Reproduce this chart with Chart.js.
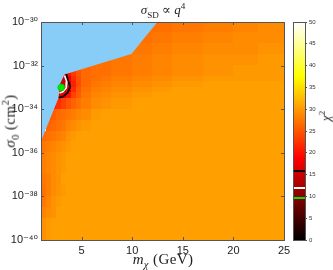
<!DOCTYPE html>
<html>
<head>
  <title>chi2 map sigma_SD ~ q^4</title>
  <script src="https://cdn.jsdelivr.net/npm/chart.js"></script>
  <style>
    body { margin: 0; background: #fff; }
    #wrap { position: relative; width: 333px; height: 270px; overflow: hidden; }
    canvas { position: absolute; top: 0; }
    #main { left: 0; }
    #cbar { left: 285px; }
    .lbl { position: absolute; font-family: "Liberation Serif", "DejaVu Serif", serif; color: #222; white-space: nowrap; line-height: 1; }
    .lbl sub, .lbl sup { font-size: 70%; }
    #title { left: 0; width: 326px; top: 2px; text-align: center; font-size: 13px; }
    #xlab { left: 0; width: 326px; top: 252px; text-align: center; font-size: 15px; letter-spacing: 0.4px; }
    #ylab { left: 11px; top: 121px; font-size: 15px; letter-spacing: 0.4px; transform: translate(-50%, -50%) rotate(-90deg); }
    #clab { left: 325px; top: 116px; font-size: 13px; transform: translate(-50%, -50%) rotate(-90deg); }
  </style>
</head>
<body>
<div id="wrap">
  <canvas id="main" width="333" height="270"></canvas>
  <canvas id="cbar" width="48" height="270"></canvas>
  <div class="lbl" id="title"><i>σ</i><sub>SD</sub> ∝ <i>q</i><sup>4</sup></div>
  <div class="lbl" id="xlab"><i>m</i><sub><i>χ</i></sub> (GeV)</div>
  <div class="lbl" id="ylab"><i>σ</i><sub>0</sub> (cm<sup>2</sup>)</div>
  <div class="lbl" id="clab"><i>χ</i><sup>2</sup></div>
</div>

<script>
  // grid of chi^2 values, cells between these edges
  const massEdges = [1, 1.5, 2, 2.5, 3, 3.5, 4, 4.5, 5, 6, 7, 8, 10, 12, 14, 17, 20, 22.5, 25];
  const logSigmaEdges = [-30, -30.5, -31, -31.5, -32, -32.5, -32.75, -33, -33.25, -33.5, -34, -34.5, -35, -35.5, -36, -37, -37.5, -38, -38.5, -39, -40];
  const n = null;
  const chi2Rows = [
    [n,n,n,n,n,n,n,n,n,n,n,n,27,27,27.5,28,28.5,29],
    [n,n,n,n,n,n,n,n,n,n,n,n,27,27.5,28,28.5,29,29],
    [n,n,n,n,n,n,n,n,n,n,n,27,27.5,28,28.5,29,29,29.5],
    [n,n,n,n,n,n,n,n,n,27,27,27.5,28,28.5,29,29.5,29.5,30],
    [n,n,n,n,15,20,23,25,26.5,27,27,27.5,28,28.5,29,29.5,30,30],
    [n,n,n,n,15,17.5,22,24.5,26.5,27,27.5,28,28.5,29,29.5,30,30,30],
    [n,n,n,15,14.5,16,21,24.5,26.5,27.5,28,28.5,29,29.5,30,30.5,30.5,30.5],
    [n,n,n,15,15,17,22,25,27,28,28.5,29,29.5,30,30.5,30.5,30.5,30.5],
    [n,n,n,17,17.5,20,23.5,25.5,27.5,28.5,29,29.5,30,30.5,30.5,30.5,30.5,30.5],
    [n,n,21,22,23.5,25,26,27,28,29,29.5,30,30.5,30.5,30.5,30.5,30.5,30.5],
    [n,25,25.5,26.5,27,27.5,28,28.5,29,30,30.5,30.5,30.5,30.5,30.5,30.5,30.5,30.5],
    [n,26,26.5,27,27.5,28.5,29,29.5,30,30.5,30.5,30.5,30.5,30.5,30.5,30.5,30.5,30.5],
    [26.5,27,27.5,28,28.5,29.5,30,30.5,30.5,30.5,30.5,30.5,30.5,30.5,30.5,30.5,30.5,30.5],
    [27.5,28,28.5,29,29.5,30,30.5,30.5,30.5,30.5,30.5,30.5,30.5,30.5,30.5,30.5,30.5,30.5],
    [28,28.5,29,29.5,30,30.5,30.5,30.5,30.5,30.5,30.5,30.5,30.5,30.5,30.5,30.5,30.5,30.5],
    [27.5,28,29,29.5,30.5,30.5,30.5,30.5,30.5,30.5,30.5,30.5,30.5,30.5,30.5,30.5,30.5,30.5],
    [27,28,29,29.5,30,30.5,30.5,30.5,30.5,30.5,30.5,30.5,30.5,30.5,30.5,30.5,30.5,30.5],
    [27.5,28.5,29.5,30,30.5,30.5,30.5,30.5,30.5,30.5,30.5,30.5,30.5,30.5,30.5,30.5,30.5,30.5],
    [28.5,29,29.5,30.5,30.5,30.5,30.5,30.5,30.5,30.5,30.5,30.5,30.5,30.5,30.5,30.5,30.5,30.5],
    [29.5,30,30.5,30.5,30.5,30.5,30.5,30.5,30.5,30.5,30.5,30.5,30.5,30.5,30.5,30.5,30.5,30.5]
  ];

  // excluded region (light blue), its lower edge
  const excludedEdge = [
    {x: 1, y: -35.46}, {x: 2.73, y: -33.49}, {x: 2.88, y: -32.84},
    {x: 3.32, y: -32.41}, {x: 9.93, y: -31.47}, {x: 12.5, y: -30}
  ];
  // confidence contours
  const contourWhite = [
    {x: 3.32, y: -32.45}, {x: 3.55, y: -32.74}, {x: 3.49, y: -33.03}, {x: 3.15, y: -33.2}, {x: 2.83, y: -33.26}
  ];
  const contourBlack = [
    {x: 3.5, y: -32.39}, {x: 3.71, y: -32.74}, {x: 3.88, y: -32.97}, {x: 3.65, y: -33.24}, {x: 3.15, y: -33.43}, {x: 2.76, y: -33.47}
  ];
  const bestFit = [{x: 3, y: -33}];

  const xTicks = [5, 10, 15, 20, 25];
  const yTicks = [-40, -38, -36, -34, -32, -30];
  const cbarTicks = [0, 5, 10, 15, 20, 25, 30, 35, 40, 45, 50];
  const cbarLevels = [9.6, 11.9, 15.8];
  const cbarLevelColors = ['#00e600', '#ffffff', '#000000'];
  const chi2Max = 50;

  function hot(v) {
    const t = Math.max(0, Math.min(1, v / chi2Max));
    const r = Math.min(1, t / 0.375);
    const g = Math.max(0, Math.min(1, (t - 0.375) / 0.375));
    const b = Math.max(0, Math.min(1, (t - 0.75) / 0.25));
    return `rgb(${Math.round(r * 255)},${Math.round(g * 255)},${Math.round(b * 255)})`;
  }

  const sup = {'-': '⁻', '0': '⁰', '1': '¹', '2': '²', '3': '³', '4': '⁴', '5': '⁵', '6': '⁶', '7': '⁷', '8': '⁸', '9': '⁹'};

  const heatPlugin = {
    id: 'heat',
    beforeDatasetsDraw(chart) {
      const ctx = chart.ctx, xs = chart.scales.x, ys = chart.scales.y;
      ctx.save();
      chi2Rows.forEach((row, j) => {
        const y0 = Math.floor(ys.getPixelForValue(logSigmaEdges[j]));
        const y1 = Math.ceil(ys.getPixelForValue(logSigmaEdges[j + 1]));
        row.forEach((v, i) => {
          if (v === null) return;
          const x0 = Math.floor(xs.getPixelForValue(massEdges[i]));
          const x1 = Math.ceil(xs.getPixelForValue(massEdges[i + 1]));
          ctx.fillStyle = hot(v);
          ctx.fillRect(x0, y0, x1 - x0, y1 - y0);
        });
      });
      ctx.restore();
    }
  };

  const framePlugin = {
    id: 'frame',
    afterDatasetsDraw(chart) {
      const ctx = chart.ctx, a = chart.chartArea, xs = chart.scales.x, ys = chart.scales.y;
      ctx.save();
      ctx.strokeStyle = '#555';
      ctx.lineWidth = 1;
      ctx.beginPath();
      xTicks.forEach(t => {
        const px = Math.round(xs.getPixelForValue(t)) + 0.5;
        ctx.moveTo(px, a.bottom); ctx.lineTo(px, a.bottom - 3);
        ctx.moveTo(px, a.top); ctx.lineTo(px, a.top + 3);
      });
      yTicks.forEach(t => {
        const py = Math.round(ys.getPixelForValue(t)) + 0.5;
        ctx.moveTo(a.left, py); ctx.lineTo(a.left + 3, py);
        ctx.moveTo(a.right, py); ctx.lineTo(a.right - 3, py);
      });
      ctx.stroke();
      ctx.strokeRect(Math.round(a.left) + 0.5, Math.round(a.top) + 0.5, Math.round(a.right - a.left), Math.round(a.bottom - a.top));
      ctx.restore();
    }
  };

  new Chart(document.getElementById('main'), {
    type: 'scatter',
    data: {
      datasets: [
        {data: bestFit, pointRadius: 3.5, backgroundColor: '#00e600', borderColor: '#00c000', borderWidth: 0.5},
        {type: 'line', data: contourWhite, borderColor: '#ffffff', borderWidth: 1.6, pointRadius: 0, fill: false, tension: 0},
        {type: 'line', data: contourBlack, borderColor: '#000000', borderWidth: 1.8, pointRadius: 0, fill: false, tension: 0},
        {type: 'line', data: excludedEdge, borderWidth: 0, borderColor: 'rgba(0,0,0,0)', backgroundColor: '#87cdf8', pointRadius: 0, fill: 'end', tension: 0}
      ]
    },
    options: {
      responsive: false,
      animation: false,
      devicePixelRatio: 1,
      layout: {padding: {left: 0, right: 49, top: 22, bottom: 0}},
      plugins: {legend: {display: false}, tooltip: {enabled: false}},
      scales: {
        x: {
          type: 'linear', min: 1, max: 25,
          afterBuildTicks: s => { s.ticks = xTicks.map(v => ({value: v})); },
          afterFit: s => { s.height = 30; },
          grid: {drawOnChartArea: false, drawTicks: false},
          border: {display: false},
          ticks: {font: {family: 'Liberation Sans', size: 11}, color: '#222', padding: 4, maxRotation: 0}
        },
        y: {
          type: 'linear', min: -40, max: -30,
          afterBuildTicks: s => { s.ticks = yTicks.map(v => ({value: v})); },
          afterFit: s => { s.width = 41; },
          grid: {drawOnChartArea: false, drawTicks: false},
          border: {display: false},
          ticks: {
            font: {family: 'Liberation Sans, DejaVu Sans', size: 11}, color: '#222', padding: 3,
            callback: v => '10' + String(v).split('').map(c => sup[c]).join('')
          }
        }
      }
    },
    plugins: [heatPlugin, framePlugin]
  });

  const cbarPlugin = {
    id: 'cbarFill',
    beforeDatasetsDraw(chart) {
      const ctx = chart.ctx, a = chart.chartArea, ys = chart.scales.y;
      const yb = ys.getPixelForValue(0), yt = ys.getPixelForValue(chi2Max);
      const g = ctx.createLinearGradient(0, yb, 0, yt);
      g.addColorStop(0, '#000000');
      g.addColorStop(0.375, '#ff0000');
      g.addColorStop(0.75, '#ffff00');
      g.addColorStop(1, '#ffffff');
      ctx.save();
      ctx.fillStyle = g;
      ctx.fillRect(a.left, yt, a.right - a.left, yb - yt);
      cbarLevels.forEach((lv, i) => {
        ctx.fillStyle = cbarLevelColors[i];
        ctx.fillRect(a.left, Math.round(ys.getPixelForValue(lv)) - 1, a.right - a.left, 2);
      });
      ctx.strokeStyle = '#555';
      ctx.lineWidth = 1;
      ctx.strokeRect(Math.round(a.left) + 0.5, Math.round(a.top) + 0.5, Math.round(a.right - a.left), Math.round(a.bottom - a.top));
      ctx.restore();
    }
  };

  new Chart(document.getElementById('cbar'), {
    type: 'bar',
    data: {labels: [''], datasets: [{data: [null]}]},
    options: {
      responsive: false,
      animation: false,
      devicePixelRatio: 1,
      layout: {padding: {left: 8, right: 0, top: 22, bottom: 30}},
      plugins: {legend: {display: false}, tooltip: {enabled: false}},
      scales: {
        x: {display: false},
        y: {
          position: 'right', min: 0, max: chi2Max,
          afterBuildTicks: s => { s.ticks = cbarTicks.map(v => ({value: v})); },
          afterFit: s => { s.width = 28; },
          grid: {drawOnChartArea: false, tickLength: 2, color: '#555'},
          border: {display: false},
          ticks: {font: {family: 'Liberation Sans', size: 6}, color: '#333', padding: 2}
        }
      }
    },
    plugins: [cbarPlugin]
  });
</script>
</body>
</html>
